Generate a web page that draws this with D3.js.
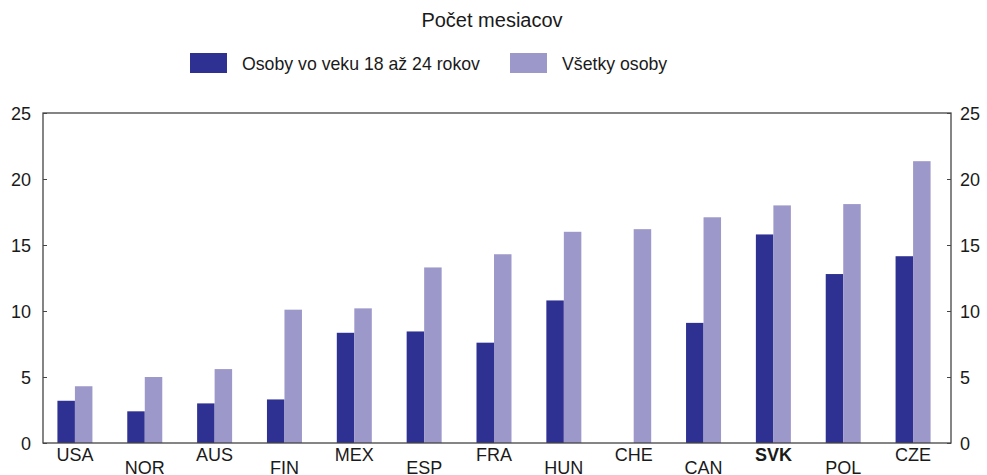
<!DOCTYPE html>
<html>
<head>
<meta charset="utf-8">
<script src="https://cdn.jsdelivr.net/npm/d3@7"></script>
<style>
  body { margin: 0; background: #fff; }
  text { font-family: "Liberation Sans", Arial, sans-serif; fill: #1a1a1a; }
</style>
</head>
<body>
<div id="chart"></div>
<script>
// data
const countries = ['USA','NOR','AUS','FIN','MEX','ESP','FRA','HUN','CHE','CAN','SVK','POL','CZE'];
const youth = [3.2, 2.4, 3.0, 3.3, 8.35, 8.45, 7.6, 10.8, null, 9.1, 15.8, 12.8, 14.15];
const allPersons = [4.3, 5.0, 5.6, 10.1, 10.2, 13.3, 14.3, 16.0, 16.2, 17.1, 18.0, 18.1, 21.35];
const seriesNames = ['Osoby vo veku 18 až 24 rokov', 'Všetky osoby'];
const yTicks = [0, 5, 10, 15, 20, 25];

const colors = ['#2e3192', '#9d98ca'];
const width = 987, height = 475;
const plotLeft = 43, plotRight = 951, plotTop = 113, plotBottom = 443;

const svg = d3.select('#chart').append('svg')
  .attr('width', width).attr('height', height);

let x = d3.scaleBand().domain(countries).range([plotLeft - 3, plotRight - 3]);
let xSub = d3.scaleBand().domain([0, 1]).range([-17.5, 17.5]);
let y = d3.scaleLinear().domain([0, 25]).range([plotBottom, plotTop]);

// title
svg.append('text').attr('x', 492).attr('y', 27)
  .attr('text-anchor', 'middle').style('font-size', '20px')
  .text('Počet mesiacov');

// legend
let legendX = [190, 510];
seriesNames.forEach((name, i) => {
  svg.append('rect').attr('x', legendX[i]).attr('y', 53)
    .attr('width', 37).attr('height', 20).attr('fill', colors[i]);
  svg.append('text').attr('x', legendX[i] + 52).attr('y', 69.5)
    .style('font-size', '17.7px').text(name);
});

// bars
let rows = countries.map((c, i) => ({c: c, v: [youth[i], allPersons[i]]}));
let groups = svg.append('g').selectAll('g').data(rows).enter().append('g')
  .attr('transform', d => `translate(${x(d.c) + x.bandwidth() / 2},0)`);
groups.selectAll('rect')
  .data(d => d.v.map((v, k) => ({k: k, v: v})).filter(e => e.v != null))
  .enter().append('rect')
  .attr('x', e => xSub(e.k))
  .attr('width', xSub.bandwidth())
  .attr('y', e => y(e.v))
  .attr('height', e => y(0) - y(e.v))
  .attr('fill', e => colors[e.k]);

// frame
svg.append('rect').attr('x', plotLeft).attr('y', plotTop)
  .attr('width', plotRight - plotLeft).attr('height', plotBottom - plotTop)
  .attr('fill', 'none').attr('stroke', '#444').attr('stroke-width', 1.3);

// y axes
let yl = svg.append('g').attr('transform', `translate(${plotLeft},0)`)
  .call(d3.axisRight(y).tickValues(yTicks).tickSize(4).tickFormat(''));
let yr = svg.append('g').attr('transform', `translate(${plotRight},0)`)
  .call(d3.axisLeft(y).tickValues(yTicks).tickSize(4).tickFormat(''));
[yl, yr].forEach(g => {
  g.select('.domain').remove();
  g.selectAll('line').attr('stroke', '#444');
});
yTicks.forEach(t => {
  svg.append('text').attr('x', 31).attr('y', y(t) + 6.5)
    .attr('text-anchor', 'end').style('font-size', '18px').text(t);
  svg.append('text').attr('x', 960).attr('y', y(t) + 6.5)
    .style('font-size', '18px').text(t);
});

// x labels
countries.forEach((c, i) => {
  svg.append('text')
    .attr('x', x(c) + x.bandwidth() / 2)
    .attr('y', i % 2 == 0 ? 461 : 474)
    .attr('text-anchor', 'middle')
    .style('font-size', '18px')
    .style('font-weight', c == 'SVK' ? 'bold' : 'normal')
    .text(c);
});
</script>
</body>
</html>
